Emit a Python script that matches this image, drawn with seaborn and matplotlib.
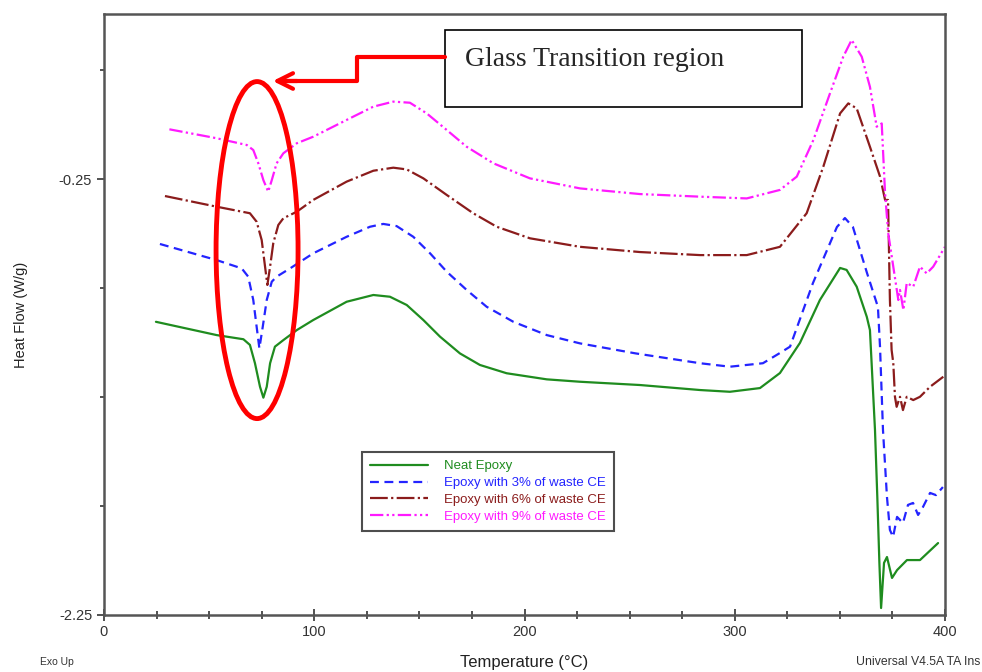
import numpy as np
import pandas as pd
import seaborn as sns
import matplotlib
matplotlib.use("Agg")
import matplotlib.pyplot as plt
from matplotlib.patches import Ellipse, Rectangle
from matplotlib.lines import Line2D
from matplotlib.ticker import FixedLocator, MultipleLocator

# %% data (temperature in degC, heat flow in W/g)
neat_t = [24.7, 53.6, 66.3, 69.4, 71.8, 74.2, 75.8, 77.4, 79.0, 81.3, 85.3, 91.7, 99.5,
          115.4, 128.1, 136.0, 144.0, 151.9, 159.8, 169.3, 178.8, 191.5, 210.6, 226.4,
          254.9, 283.5, 297.7, 312.0, 321.5, 331.0, 340.5, 350.1, 353.2, 358.0, 362.8,
          364.3, 365.1, 366.7, 367.8, 368.8, 369.6, 371.0, 372.4, 374.8, 377.2, 381.9,
          388.1, 396.7]
neat_hf = [-0.905, -0.966, -0.985, -1.011, -1.095, -1.203, -1.253, -1.203, -1.095, -1.019,
           -0.989, -0.943, -0.897, -0.813, -0.782, -0.790, -0.828, -0.897, -0.973, -1.050,
           -1.103, -1.141, -1.169, -1.180, -1.195, -1.218, -1.226, -1.209, -1.140, -1.002,
           -0.805, -0.658, -0.667, -0.744, -0.882, -0.943, -1.095, -1.401, -1.707, -2.013,
           -2.218, -2.011, -1.984, -2.080, -2.044, -1.998, -1.998, -1.920]

cb3_t = [26.6, 53.6, 65.5, 68.6, 71.0, 72.6, 73.9, 75.5, 77.4, 79.8, 82.1, 88.5, 99.5,
         115.4, 126.5, 132.8, 139.2, 147.1, 155.1, 163.0, 172.5, 182.0, 194.7, 210.6, 226.4,
         252.9, 283.5, 297.7, 313.4, 321.5, 326.3, 337.2, 348.6, 352.4, 356.2, 362.9, 368.1,
         369.1, 370.5, 372.4, 373.8, 375.3, 377.2, 380.0, 382.4, 384.8, 387.2, 389.5, 392.9,
         395.7, 399.0]
cb3_hf = [-0.548, -0.622, -0.660, -0.698, -0.805, -0.928, -1.027, -0.928, -0.805, -0.721,
          -0.698, -0.660, -0.591, -0.515, -0.469, -0.456, -0.466, -0.515, -0.591, -0.675,
          -0.759, -0.836, -0.905, -0.966, -1.004, -1.050, -1.095, -1.111, -1.095, -1.048,
          -1.019, -0.727, -0.470, -0.429, -0.470, -0.681, -0.837, -1.021, -1.401, -1.709,
          -1.860, -1.892, -1.800, -1.828, -1.745, -1.736, -1.791, -1.755, -1.690, -1.700,
          -1.663]

cb6_t = [29.0, 53.6, 69.4, 72.6, 75.0, 76.6, 77.7, 79.0, 80.5, 82.9, 85.3, 91.7, 99.5,
         115.4, 128.1, 137.6, 144.0, 151.9, 163.0, 175.6, 186.8, 202.6, 226.4, 254.9, 283.5,
         305.7, 321.5, 334.2, 342.1, 350.1, 354.0, 358.0, 364.3, 369.1, 371.5, 372.9, 373.8,
         374.6, 375.4, 376.2, 377.0, 378.6, 380.0, 381.8, 384.9, 388.1, 392.9, 399.2]
cb6_hf = [-0.328, -0.377, -0.407, -0.446, -0.530, -0.652, -0.736, -0.652, -0.545, -0.461,
          -0.430, -0.400, -0.346, -0.262, -0.212, -0.198, -0.206, -0.247, -0.323, -0.407,
          -0.469, -0.522, -0.561, -0.585, -0.599, -0.599, -0.561, -0.407, -0.194, 0.051,
          0.097, 0.074, -0.102, -0.239, -0.346, -0.346, -0.805, -1.034, -1.094, -1.249,
          -1.295, -1.249, -1.310, -1.249, -1.264, -1.249, -1.203, -1.157]

cb9_t = [31.1, 53.6, 67.9, 71.0, 73.4, 75.8, 78.1, 79.8, 82.1, 85.3, 91.7, 99.5, 115.4,
         128.1, 137.6, 145.5, 153.5, 163.0, 172.5, 185.2, 202.6, 226.4, 254.9, 283.5, 305.7,
         321.5, 329.5, 337.4, 345.3, 351.6, 355.6, 360.4, 364.3, 367.5, 369.9, 371.5, 373.0,
         375.4, 377.8, 378.6, 380.2, 381.8, 384.9, 388.1, 391.3, 394.4, 400.0]
cb9_hf = [-0.022, -0.063, -0.094, -0.117, -0.178, -0.255, -0.308, -0.255, -0.178, -0.132,
          -0.086, -0.056, 0.021, 0.082, 0.105, 0.100, 0.051, -0.025, -0.102, -0.178, -0.247,
          -0.293, -0.319, -0.331, -0.339, -0.300, -0.239, -0.071, 0.143, 0.311, 0.388,
          0.311, 0.173, -0.010, 0.005, -0.316, -0.499, -0.652, -0.805, -0.759, -0.851,
          -0.727, -0.744, -0.652, -0.683, -0.652, -0.561]

labels = ["Neat Epoxy", "Epoxy with 3% of waste CE", "Epoxy with 6% of waste CE",
          "Epoxy with 9% of waste CE"]
colors = ["#1f8c1f", "#2424ff", "#8b1c1c", "#ff1aff"]
styles = ["-", (0, (4, 2.5)), (0, (8, 1.5, 1, 1.5)), (0, (6, 1.5, 1, 1.5, 1, 1.5))]

# %%
sns.set_style("ticks")
plt.rcParams["font.family"] = ["Liberation Sans", "DejaVu Sans"]

fig = plt.figure(figsize=(9.82, 6.72), dpi=100)
ax = fig.add_axes([104 / 982, 1 - 615 / 672, (945 - 104) / 982, (615 - 14) / 672])

series = [(neat_t, neat_hf), (cb3_t, cb3_hf), (cb6_t, cb6_hf), (cb9_t, cb9_hf)]
for (t, hf), lab, col, ls in zip(series, labels, colors, styles):
    df = pd.DataFrame({"T": t, "HF": hf})
    sns.lineplot(data=df, x="T", y="HF", ax=ax, color=col, linestyle=ls,
                 linewidth=1.6, label=lab, sort=False, estimator=None)

ax.set_xlim(0, 400)
ax.set_ylim(-2.25, 0.507)
ax.xaxis.set_major_locator(MultipleLocator(100))
ax.xaxis.set_minor_locator(MultipleLocator(25))
ax.yaxis.set_major_locator(FixedLocator([-2.25, -0.25]))
ax.yaxis.set_minor_locator(MultipleLocator(0.5, offset=0.25))
ax.set_yticklabels(["-2.25", "-0.25"])
ax.tick_params(axis="x", which="both", direction="inout", length=8, width=1.2,
               labelsize=10.5, colors="#333333")
ax.tick_params(axis="x", which="minor", length=6)
ax.tick_params(axis="y", which="both", direction="out", length=5, width=1.2,
               labelsize=10.5, colors="#333333")
ax.tick_params(axis="y", which="minor", length=3)
for sp in ax.spines.values():
    sp.set_color("#555555")
    sp.set_linewidth(1.8)

ax.set_xlabel("Temperature (°C)", fontsize=12, color="#222222", labelpad=11)
ax.set_ylabel("Heat Flow (W/g)", fontsize=10.5, color="#222222", labelpad=22)

leg = ax.legend(loc="upper left", bbox_to_anchor=(0.307, 0.271), borderaxespad=0,
                fontsize=9.5, handlelength=4.4, handletextpad=1.2, labelspacing=0.35,
                frameon=True, fancybox=False, labelcolor="linecolor",
                borderpad=0.6)
leg.get_frame().set_edgecolor("#222222")
leg.get_frame().set_linewidth(1.5)

# %% glass transition annotation
ax.add_patch(Ellipse((72.8, -0.576), 39, 1.546, fill=False, edgecolor="red",
                     linewidth=3.5, zorder=5))

px = lambda x, y: (x / 982, 1 - y / 672)
pts = [px(445, 57), px(357, 57), px(357, 81), px(285, 81)]
fig.add_artist(Line2D([p[0] for p in pts], [p[1] for p in pts], color="red",
                      linewidth=3, transform=fig.transFigure))
ax.annotate("", xy=px(270, 81), xytext=px(300, 81), xycoords="figure fraction",
            textcoords="figure fraction",
            arrowprops=dict(arrowstyle="->", color="red", lw=3, mutation_scale=28))

fig.add_artist(Rectangle(px(445, 107), (802 - 445) / 982, (107 - 30) / 672,
                         transform=fig.transFigure, fill=False, edgecolor="black",
                         linewidth=1.2))
fig.text(*px(465, 60), "Glass Transition region", fontsize=20,
         family=["Liberation Serif", "DejaVu Serif"], va="center", ha="left")

fig.text(*px(40, 662), "Exo Up", fontsize=7.5, color="#333333", va="center")
fig.text(*px(980, 662), "Universal V4.5A TA Ins", fontsize=8.8,
         color="#333333", va="center", ha="right")

fig.savefig("out.png", dpi=100, facecolor="white")
